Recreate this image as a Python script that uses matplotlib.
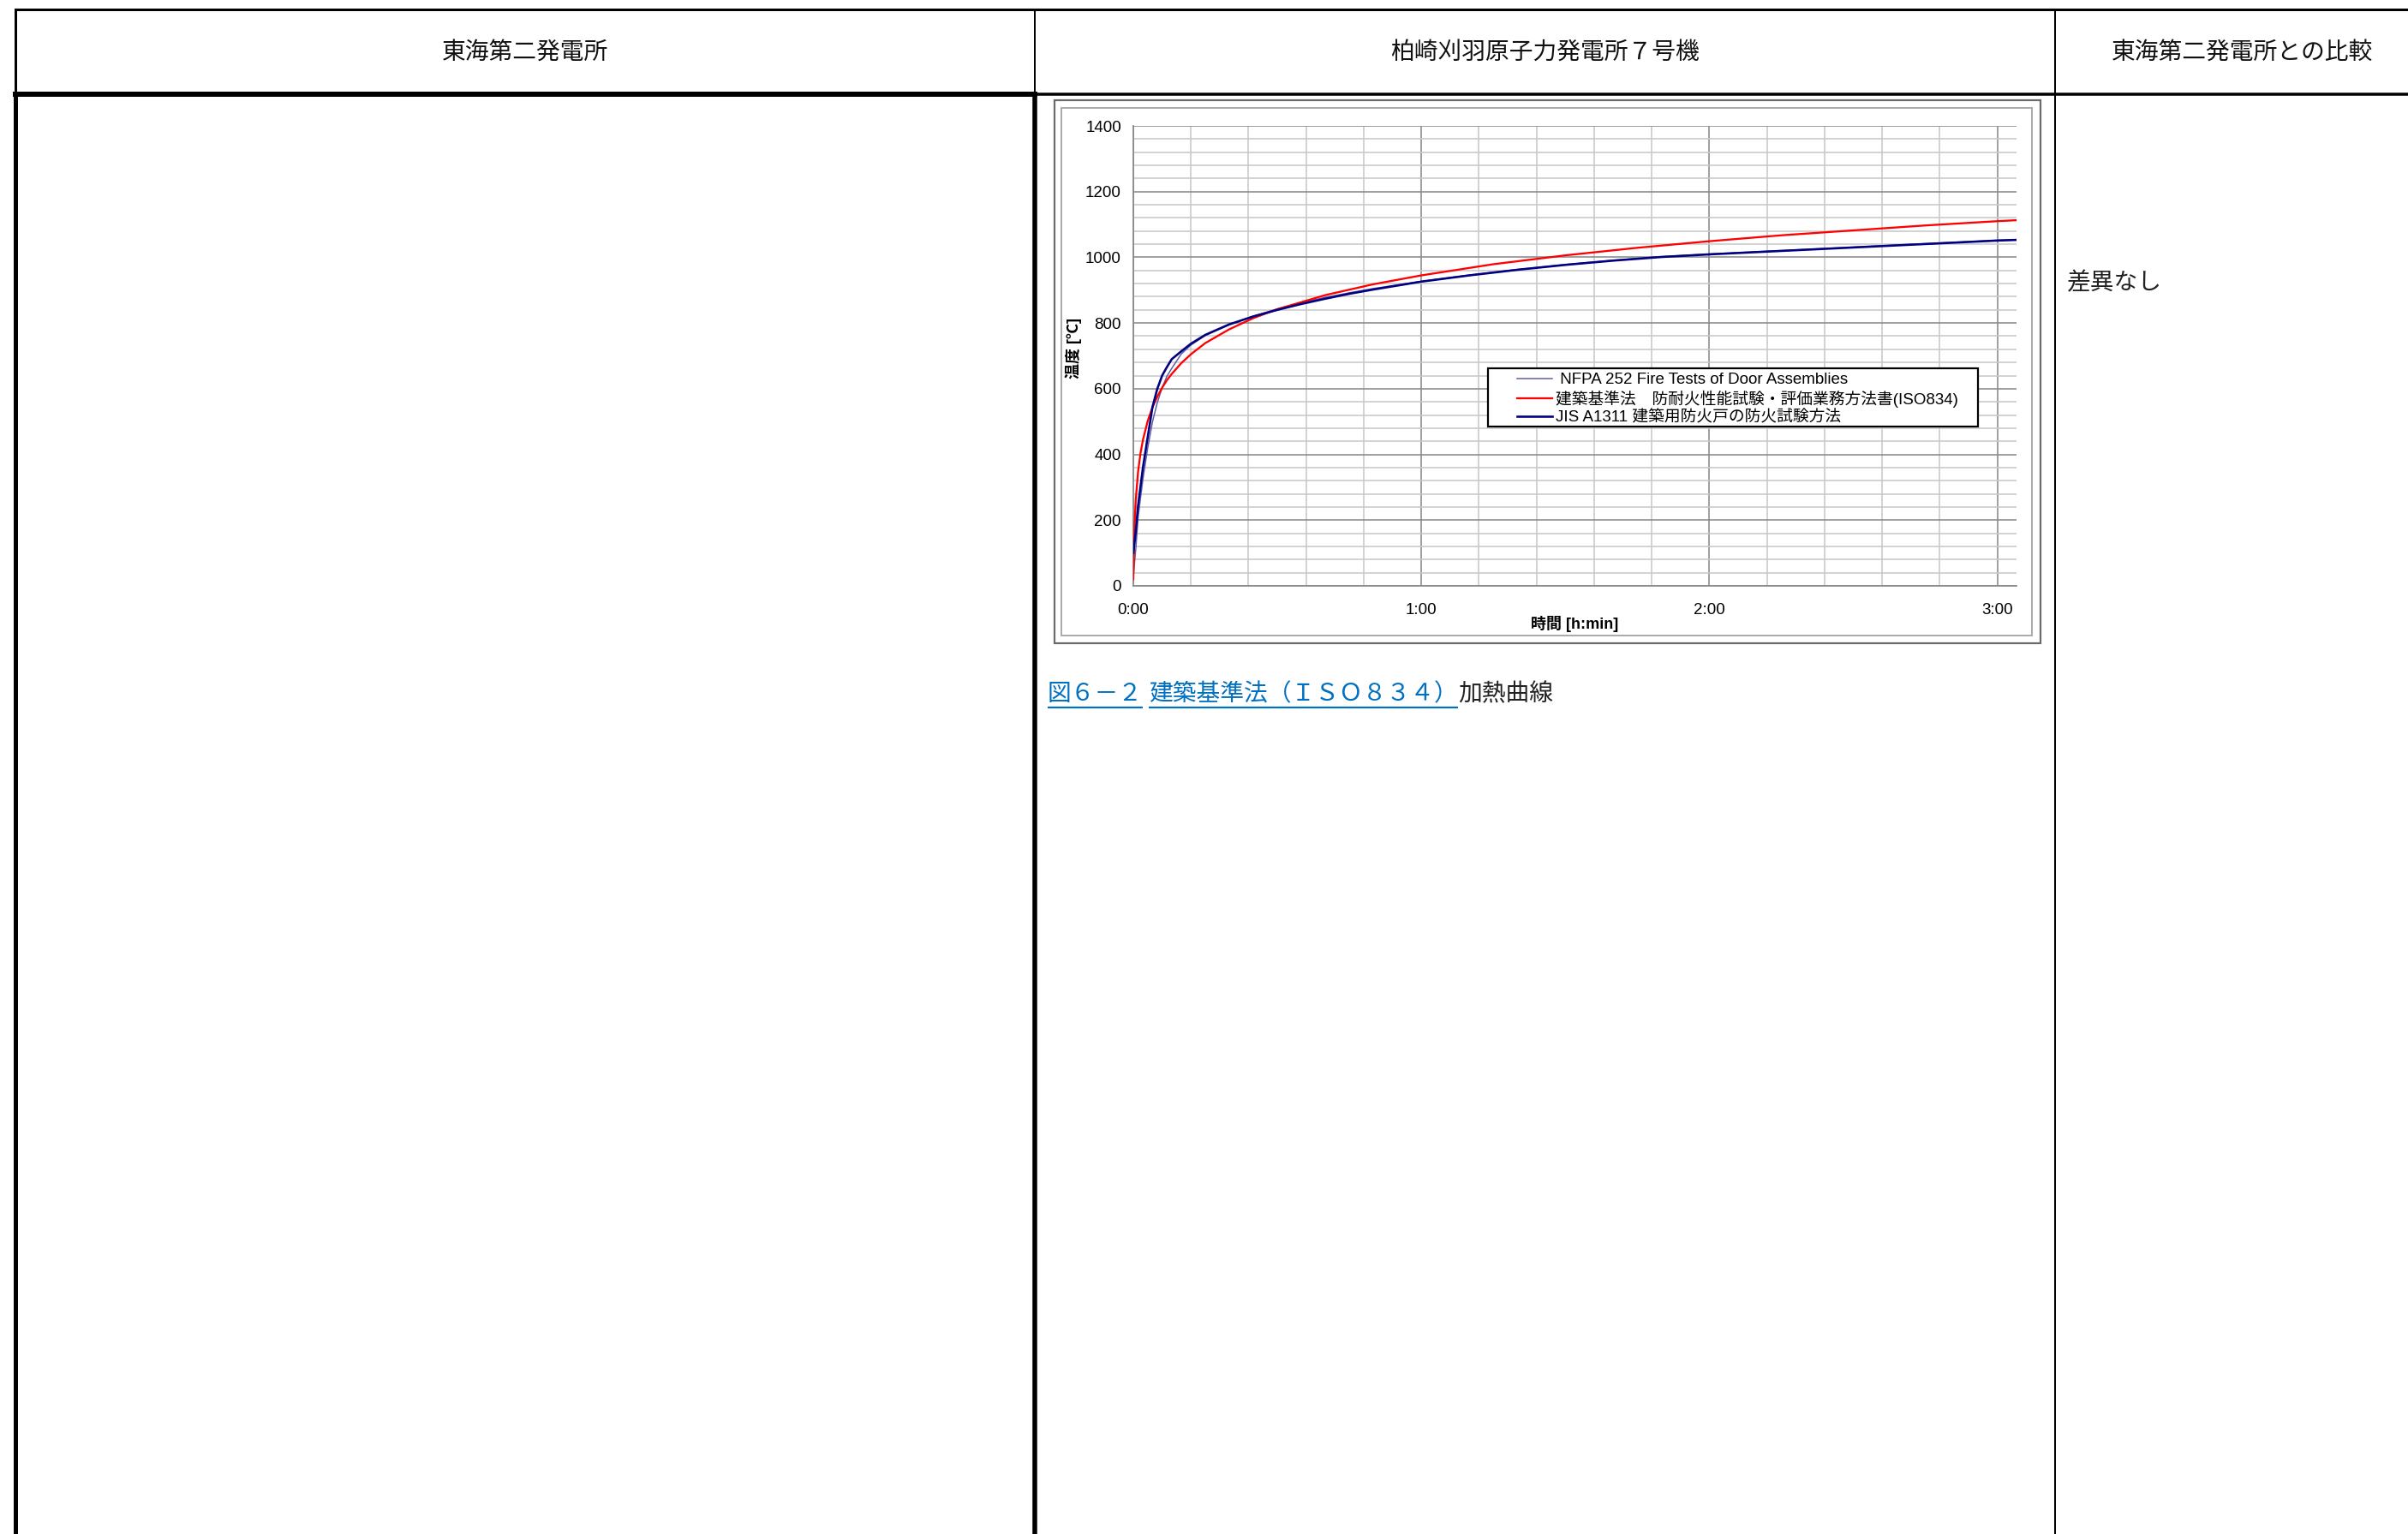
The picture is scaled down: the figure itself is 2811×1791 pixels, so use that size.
import matplotlib
matplotlib.use("Agg")
import matplotlib.pyplot as plt
from matplotlib.patches import Rectangle
from matplotlib.ticker import FixedLocator, FixedFormatter

plt.rcParams['font.family'] = ['Noto Sans CJK JP', 'DejaVu Sans']

# ---------------- data ----------------
header_labels = ["東海第二発電所", "柏崎刈羽原子力発電所７号機", "東海第二発電所との比較"]
comparison_text = "差異なし"
caption_parts = ["図６－２", "建築基準法（ＩＳＯ８３４）", "加熱曲線"]

series_labels = [" NFPA 252 Fire Tests of Door Assemblies",
                 "建築基準法　防耐火性能試験・評価業務方法書(ISO834)",
                 "JIS A1311 建築用防火戸の防火試験方法"]
y_label = "温度 [℃]"
x_label = "時間 [h:min]"

# time in minutes, temperature in deg C
time_nfpa = [0, 0.5, 1, 2, 3, 4, 5, 6, 7, 8, 10, 12, 15, 20, 25, 30, 35, 40, 45,
             50, 55, 60, 70, 80, 90, 100, 110, 120, 130, 140, 150, 160, 170, 180, 184]
temp_nfpa = [30, 110, 210, 325, 420, 500, 558, 603, 638, 662, 706, 733, 762, 795, 821, 843, 862, 878, 892,
             905, 916, 927, 946, 963, 978, 991, 1002, 1010, 1017, 1024, 1031, 1038, 1045, 1052, 1054]

time_iso = [0, 0.25, 0.5, 1, 1.5, 2, 3, 4, 5, 6, 7, 8, 10, 12, 15, 20, 25, 30, 40, 50,
            60, 75, 90, 105, 120, 135, 150, 165, 180, 184]
temp_iso = [20, 185, 261, 349, 404, 444, 502, 544, 576, 603, 626, 645, 678, 705, 739, 781, 815, 842, 885, 918,
            945, 979, 1006, 1029, 1049, 1067, 1082, 1097, 1110, 1113]

time_jis = [0, 0.5, 1, 2, 3, 4, 5, 6, 7, 8, 10, 12, 15, 20, 25, 30, 35, 40, 45,
            50, 55, 60, 70, 80, 90, 100, 110, 120, 130, 140, 150, 160, 170, 180, 184]
temp_jis = [100, 165, 245, 360, 453, 545, 600, 640, 666, 690, 714, 737, 764, 796, 820, 840, 858, 874, 889,
            902, 914, 926, 945, 962, 977, 990, 1001, 1009, 1016, 1023, 1030, 1037, 1044, 1051, 1053]

x_major_ticks = [0, 60, 120, 180]
x_tick_labels = ["0:00", "1:00", "2:00", "3:00"]
x_minor_step = 12
y_major_ticks = [0, 200, 400, 600, 800, 1000, 1200, 1400]
y_minor_step = 40
x_max = 184
y_max = 1400

# ---------------- figure ----------------
W, H = 2811, 1791
fig = plt.figure(figsize=(W / 100, H / 100), dpi=100)
fig.patch.set_facecolor("white")

bg = fig.add_axes([0, 0, 1, 1], zorder=0)
bg.set_xlim(0, W)
bg.set_ylim(H, 0)
bg.axis("off")

PX = 0.72  # points per pixel at dpi 100

# table grid
col_x = [18, 1208, 2399]
top_y, head_y = 11, 110
bg.plot([col_x[0], W], [top_y, top_y], color="black", lw=3 * PX, solid_capstyle="butt")
bg.plot([col_x[1], W], [head_y, head_y], color="black", lw=3.5 * PX, solid_capstyle="butt")
bg.plot([col_x[0], col_x[0]], [top_y, head_y], color="black", lw=3 * PX)
bg.plot([col_x[1], col_x[1]], [top_y, head_y], color="black", lw=2 * PX)
bg.plot([col_x[2], col_x[2]], [top_y, H], color="black", lw=2 * PX)
# thick box around the first body cell
bg.plot([col_x[0], col_x[1]], [head_y, head_y], color="black", lw=6 * PX, solid_capstyle="projecting")
bg.plot([col_x[0], col_x[0]], [head_y, H], color="black", lw=5 * PX)
bg.plot([col_x[1], col_x[1]], [head_y, H], color="black", lw=5.5 * PX)

hdr_centers = [(col_x[0] + col_x[1]) / 2, (col_x[1] + col_x[2]) / 2, 2617]
for cx, lab in zip(hdr_centers, header_labels):
    bg.text(cx, 61, lab, ha="center", va="center", fontsize=20, color="#111111")

bg.text(2413, 330, comparison_text, ha="left", va="center", fontsize=20, color="#222222")

# caption with hyperlink-like parts
blue = "#0070C0"
fig.canvas.draw()
renderer = fig.canvas.get_renderer()
inv = bg.transData.inverted()
cap_y = 810
t1 = bg.text(1223, cap_y, caption_parts[0], ha="left", va="center", fontsize=20, color=blue)
t2 = bg.text(1341, cap_y, caption_parts[1], ha="left", va="center", fontsize=20, color=blue)
b2 = t2.get_window_extent(renderer)
x2_end = inv.transform((b2.x1, b2.y0))[0]
t3 = bg.text(x2_end, cap_y, caption_parts[2], ha="left", va="center", fontsize=20, color="#222222")
for t in (t1, t2):
    bb = t.get_window_extent(renderer)
    (xa, ya), (xb, yb) = inv.transform((bb.x0, bb.y0)), inv.transform((bb.x1, bb.y0))
    bg.plot([xa, xb], [826, 826], color=blue, lw=2.2 * PX, solid_capstyle="butt")

# chart frames
bg.add_patch(Rectangle((1231, 117), 2382 - 1231, 751 - 117, fill=False, edgecolor="#6a6a6a", lw=2.2 * PX))
bg.add_patch(Rectangle((1239, 126), 2372 - 1239, 742 - 126, fill=False, edgecolor="#ababab", lw=2 * PX))

# ---------------- chart ----------------
pl, pr, pt, pb = 1323, 2354, 147, 684
ax = fig.add_axes([pl / W, 1 - pb / H, (pr - pl) / W, (pb - pt) / H], zorder=2)
ax.set_facecolor("white")
ax.set_xlim(0, x_max)
ax.set_ylim(0, y_max)

ax.xaxis.set_major_locator(FixedLocator(x_major_ticks))
ax.xaxis.set_major_formatter(FixedFormatter(x_tick_labels))
ax.xaxis.set_minor_locator(FixedLocator([m for m in range(0, x_max + 1, x_minor_step) if m not in x_major_ticks]))
ax.yaxis.set_major_locator(FixedLocator(y_major_ticks))
ax.yaxis.set_minor_locator(FixedLocator([v for v in range(0, y_max + 1, y_minor_step) if v not in y_major_ticks]))

ax.grid(which="minor", color="#c9c9c9", lw=1.6 * PX)
ax.grid(which="major", color="#8a8a8a", lw=1.6 * PX)
ax.set_axisbelow(True)
for s in ("top", "right"):
    ax.spines[s].set_visible(False)
for s in ("left", "bottom"):
    ax.spines[s].set_color("#8a8a8a")
    ax.spines[s].set_linewidth(1.8 * PX)

chart_font = ["Liberation Sans", "Noto Sans CJK JP"]
ax.tick_params(which="both", length=0)
ax.tick_params(axis="x", pad=20 * PX, labelsize=13.5)
ax.tick_params(axis="y", pad=14 * PX, labelsize=13.5)
for lab in ax.get_xticklabels() + ax.get_yticklabels():
    lab.set_fontfamily(chart_font)

l_nfpa, = ax.plot(time_nfpa, temp_nfpa, color="#5c5ca8", lw=1.5 * PX, zorder=3)
l_iso, = ax.plot(time_iso, temp_iso, color="#ff0000", lw=2.3 * PX, zorder=4)
l_jis, = ax.plot(time_jis, temp_jis, color="#000080", lw=2.6 * PX, zorder=5)

ax.set_ylabel(y_label, fontsize=13, fontweight="bold", fontfamily=chart_font, va="center", ha="center")
ax.yaxis.set_label_coords((1253 - pl) / (pr - pl), (pb - 407) / (pb - pt))
ax.set_xlabel(x_label, fontsize=13, fontweight="bold", fontfamily=chart_font, va="center", ha="center")
ax.xaxis.set_label_coords(0.5, (pb - 728) / (pb - pt))

# legend
fx = lambda x: (x - pl) / (pr - pl)
fy = lambda y: (pb - y) / (pb - pt)
frame = Rectangle((fx(1737), fy(498)), fx(2309) - fx(1737), fy(430) - fy(498),
                  transform=ax.transAxes, facecolor="white", edgecolor="black",
                  lw=2.2 * PX, zorder=6, clip_on=False)
ax.add_patch(frame)
leg = ax.legend([l_nfpa, l_iso, l_jis], series_labels, loc="upper left",
                bbox_to_anchor=(fx(1771), fy(435)), frameon=False,
                borderpad=0, borderaxespad=0, handlelength=2.2, handletextpad=0.2,
                labelspacing=0.17, prop={"family": chart_font, "size": 13.5})
leg.set_zorder(7)

fig.savefig("out.png", dpi=100, facecolor="white")
